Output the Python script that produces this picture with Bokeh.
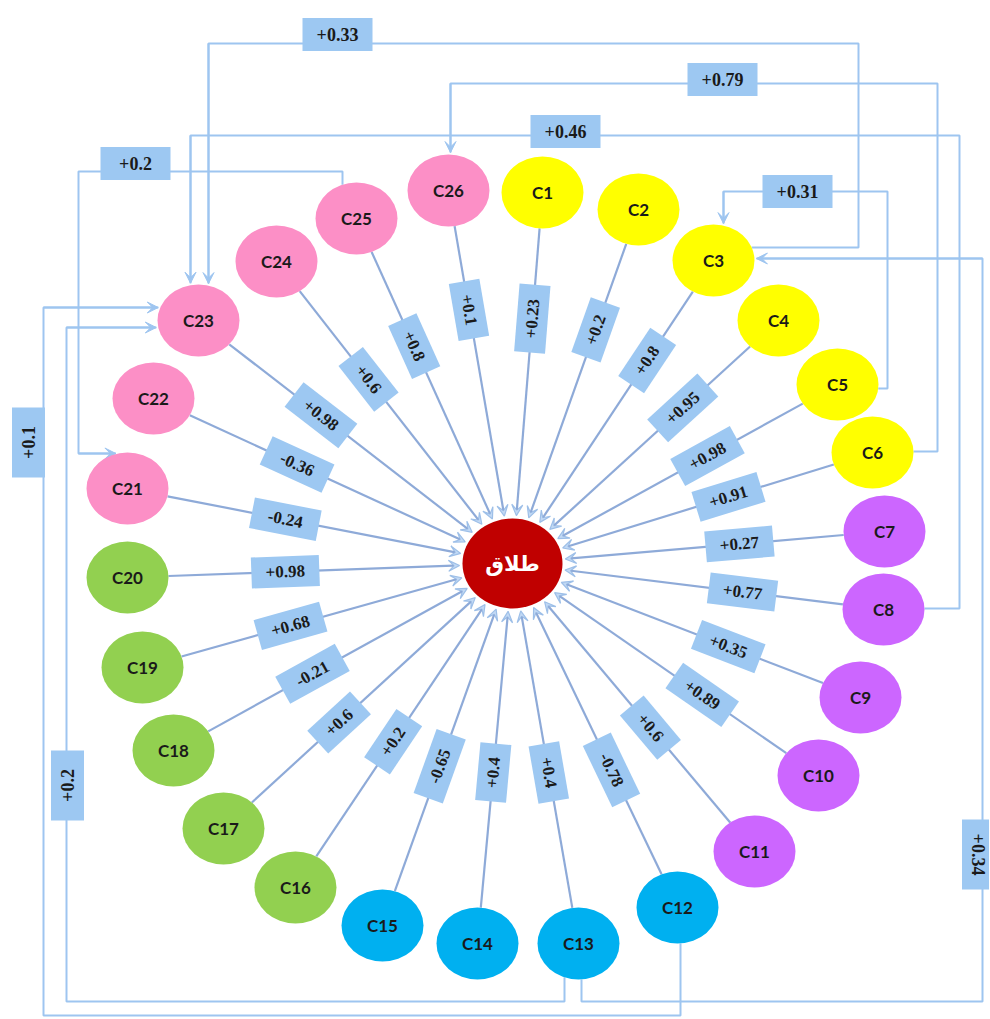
import math
from bokeh.plotting import figure
from bokeh.models import Range1d, ColumnDataSource, Arrow, VeeHead
from bokeh.core.properties import value
from bokeh.embed import file_html
from bokeh.resources import INLINE

# ---------------- data ----------------
nodes = [f"C{i}" for i in range(1, 27)]
groups = ["A"] * 6 + ["B"] * 5 + ["C"] * 4 + ["D"] * 5 + ["E"] * 6
weights = [0.23, 0.2, 0.8, 0.95, 0.98, 0.91, 0.27, 0.77, 0.35, 0.89, 0.6,
           -0.78, 0.4, 0.4, -0.65, 0.2, 0.6, -0.21, 0.68, 0.98,
           -0.24, -0.36, 0.98, 0.6, 0.8, 0.1]
target_label = "طلاق"
fb_source = ["C3", "C6", "C8", "C25", "C5", "C13", "C12", "C13"]
fb_target = ["C23", "C26", "C23", "C21", "C3", "C3", "C23", "C23"]
fb_weight = [0.33, 0.79, 0.46, 0.2, 0.31, 0.34, 0.1, 0.2]

# ---------------- layout / style ----------------
group_color = {"A": "#ffff00", "B": "#cc66ff", "C": "#00b0f0", "D": "#92d050", "E": "#fc8fc6"}
node_xy = [(542, 192), (638, 209), (713, 260), (778, 320), (837, 384), (872, 452),
           (884, 531), (883, 609), (860, 697), (818, 775), (754, 851), (677, 907),
           (578, 943), (477, 943), (382, 925), (295, 887), (223, 828), (173, 750),
           (142, 667), (127, 577), (127, 488), (153, 398), (198, 320), (276, 261),
           (356, 218), (448, 190)]
label_frac = [.34, .34, .33, .36, .40, .40, .39, .38, .38, .38, .43, .40, .45,
              .45, .44, .45, .40, .41, .40, .41, .41, .40, .39, .39, .37, .32]
center_xy = (512, 563)
NA, NB = 41, 36          # node semi axes
CA, CB = 50, 45          # center semi axes

fb_routes = [
    ("right", [(858, 247), (858, 43), (208, 43)], "top"),
    ("right", [(937, 451), (937, 83), (450, 83)], "top"),
    ("right", [(959, 608), (959, 135), (190, 135)], "top"),
    ("top", [(342, 171), (78, 171), (78, 453)], "left"),
    ("right", [(887, 388), (887, 191), (723, 191)], "top"),
    ("bottom", [(581, 1001), (982, 1001), (982, 258)], "right"),
    ("bottom", [(680, 1015), (43, 1015), (43, 307)], "left"),
    ("bottom", [(564, 1001), (66, 1001), (66, 327)], "left"),
]
fb_label_xy = [(337, 34), (722, 79), (565, 131), (135, 163), (797, 191),
               (978, 854), (28, 442), (67, 785)]
fb_label_deg = [0, 0, 0, 0, 0, -90, 90, 90]

EDGE = "#8eaad8"
FB = "#9ec5f0"
BOX = "#9dc8f2"
TXT = "#1a1a1a"

pos = dict(zip(nodes, node_xy))


def ell_pt(cx, cy, a, b, ux, uy):
    t = 1.0 / math.sqrt((ux / a) ** 2 + (uy / b) ** 2)
    return cx + ux * t, cy + uy * t


def side_pt(name, side, coord, gap=0.0):
    cx, cy = pos[name]
    if side in ("right", "left"):
        dy = coord - cy
        w = NA * math.sqrt(max(0.0, 1 - (dy / NB) ** 2)) + gap
        return (cx + w if side == "right" else cx - w), coord
    dx = coord - cx
    h = NB * math.sqrt(max(0.0, 1 - (dx / NA) ** 2)) + gap
    return coord, (cy - h if side == "top" else cy + h)


p = figure(width=989, height=1018, x_range=Range1d(0, 989), y_range=Range1d(1018, 0),
           output_backend="svg", toolbar_location=None, min_border=0,
           x_axis_type=None, y_axis_type=None,
           background_fill_color="white", border_fill_color="white")
p.grid.visible = False
p.outline_line_color = None

# ---------- feedback routes ----------
xs, ys, ax0, ay0, ax1, ay1 = [], [], [], [], [], []
for s, t, (sside, corners, tside) in zip(fb_source, fb_target, fb_routes):
    c0 = corners[0]
    start = side_pt(s, sside, c0[1] if sside in ("right", "left") else c0[0])
    cl = corners[-1]
    end = side_pt(t, tside, cl[1] if tside in ("right", "left") else cl[0], gap=2)
    pts = [start] + corners + [end]
    xs.append([q[0] for q in pts])
    ys.append([q[1] for q in pts])
    ax0.append(cl[0]); ay0.append(cl[1]); ax1.append(end[0]); ay1.append(end[1])
p.multi_line(xs=xs, ys=ys, line_color=FB, line_width=2, level="underlay")
fsrc = ColumnDataSource(dict(x0=ax0, y0=ay0, x1=ax1, y1=ay1))
p.add_layout(Arrow(x_start="x0", y_start="y0", x_end="x1", y_end="y1", source=fsrc,
                   line_color=FB, line_width=2, level="underlay",
                   end=VeeHead(size=11, line_color=FB, fill_color=FB, line_width=1)))

# ---------- edges to center ----------
cx, cy = center_xy
ex0, ey0, ex1, ey1, lx, ly, la, lab, lw = [], [], [], [], [], [], [], [], []
for n, w, f in zip(nodes, weights, label_frac):
    nx, ny = pos[n]
    dx, dy = cx - nx, cy - ny
    d = math.hypot(dx, dy)
    ux, uy = dx / d, dy / d
    sx, sy = ell_pt(nx, ny, NA, NB, ux, uy)
    tx, ty = ell_pt(cx, cy, CA, CB, -ux, -uy)
    tx, ty = tx - ux * 3, ty - uy * 3
    ex0.append(sx); ey0.append(sy); ex1.append(tx); ey1.append(ty)
    lx.append(nx + f * dx); ly.append(ny + f * dy)
    ang = math.atan2(-dy, dx)
    while ang > math.pi / 2 + 1e-9:
        ang -= math.pi
    while ang <= -math.pi / 2 + 1e-9:
        ang += math.pi
    la.append(ang)
    txt = f"{w:+g}"
    lab.append(txt)
    lw.append(58 if len(txt) <= 4 else 68)

esrc = ColumnDataSource(dict(x0=ex0, y0=ey0, x1=ex1, y1=ey1))
p.add_layout(Arrow(x_start="x0", y_start="y0", x_end="x1", y_end="y1", source=esrc,
                   line_color=EDGE, line_width=2.2, level="underlay",
                   end=VeeHead(size=11, line_color="#9dbfe8", fill_color="#c2d9f4", line_width=1.2)))

# ---------- nodes ----------
nsrc = ColumnDataSource(dict(x=[q[0] for q in node_xy], y=[q[1] for q in node_xy],
                             name=nodes, color=[group_color[g] for g in groups]))
p.ellipse(x="x", y="y", width=2 * NA, height=2 * NB, fill_color="color", line_color=None, source=nsrc)
p.text(x="x", y="y", text="name", source=nsrc, text_align="center", text_baseline="middle",
       text_font=value("Lato"), text_font_style="bold", text_font_size="17px", text_color=TXT)

p.ellipse(x=[cx], y=[cy], width=2 * CA, height=2 * CB, fill_color="#c00000", line_color=None)
p.text(x=[cx], y=[cy], text=[target_label], text_align="center", text_baseline="middle",
       text_font=value("DejaVu Sans"), text_font_style="bold", text_font_size="21px",
       text_color="white")

# ---------- edge labels ----------
lsrc = ColumnDataSource(dict(x=lx, y=ly, a=la, t=lab, w=lw))
p.rect(x="x", y="y", width="w", height=31, angle="a", width_units="screen", height_units="screen",
       fill_color=BOX, line_color=None, source=lsrc)
p.text(x="x", y="y", text="t", angle="a", source=lsrc, text_align="center", text_baseline="middle",
       text_font=value("Liberation Serif"), text_font_style="bold", text_font_size="17px",
       text_color=TXT)

# ---------- feedback labels ----------
fsrc2 = ColumnDataSource(dict(x=[q[0] for q in fb_label_xy], y=[q[1] for q in fb_label_xy],
                              a=[math.radians(d) for d in fb_label_deg],
                              t=[f"{w:+g}" for w in fb_weight]))
p.rect(x="x", y="y", width=70, height=33, angle="a", width_units="screen", height_units="screen",
       fill_color=BOX, line_color=None, source=fsrc2)
p.text(x="x", y="y", text="t", angle="a", source=fsrc2, text_align="center", text_baseline="middle",
       text_font=value("Liberation Serif"), text_font_style="bold", text_font_size="18px",
       text_color=TXT)

open("out.html", "w").write(file_html(p, INLINE))
